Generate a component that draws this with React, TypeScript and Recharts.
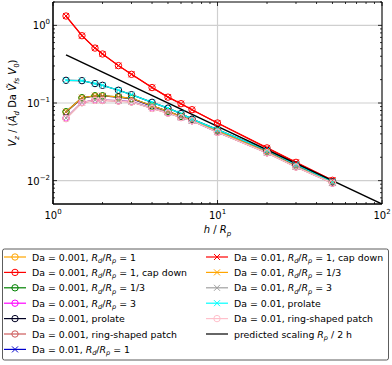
import React from "react";
import {
  LineChart,
  Line,
  XAxis,
  YAxis,
  CartesianGrid,
  ReferenceArea,
} from "recharts";

// h / R_p sampled in every run
const hOverRp = [1.2, 1.5, 1.8, 2, 2.5, 3, 4, 5, 6, 7, 10, 20, 30, 50];

// V_z values
const vRd1 = [0.0766, 0.116, 0.123, 0.123, 0.119, 0.114, 0.091, 0.078, 0.067, 0.06, 0.0435, 0.0233, 0.0153, 0.0095];
const vRd1CapDown = [1.32, 0.736, 0.51, 0.428, 0.303, 0.234, 0.158, 0.119, 0.098, 0.082, 0.0553, 0.0264, 0.0172, 0.0101];
const vRd13 = [0.0772, 0.117, 0.124, 0.124, 0.12, 0.115, 0.092, 0.078, 0.067, 0.06, 0.0437, 0.0234, 0.0153, 0.0095];
const vRd3 = [0.064, 0.102, 0.109, 0.109, 0.107, 0.104, 0.086, 0.075, 0.065, 0.059, 0.0422, 0.0229, 0.0151, 0.0093];
const vProlate = [0.196, 0.194, 0.178, 0.169, 0.146, 0.128, 0.102, 0.086, 0.073, 0.062, 0.0454, 0.0246, 0.0161, 0.0097];
const vRing = [0.063, 0.101, 0.108, 0.108, 0.106, 0.103, 0.085, 0.074, 0.065, 0.059, 0.042, 0.0228, 0.015, 0.0093];

// predicted scaling R_p / 2h, end points
const predictedH = [1.2, 100];
const predictedV = [0.417, 0.005];

const xMajor = [1, 10, 100];
const xMinor = [2, 3, 4, 5, 6, 7, 8, 9, 20, 30, 40, 50, 60, 70, 80, 90];
const yMajor = [0.01, 0.1, 1];
const yMinor = [0.006, 0.007, 0.008, 0.009, 0.02, 0.03, 0.04, 0.05, 0.06, 0.07, 0.08, 0.09, 0.2, 0.3, 0.4, 0.5, 0.6, 0.7, 0.8, 0.9, 2];

type Seg = [string, string?];
const rdrp = (v: string): Seg[] => [["R", "i"], ["d", "is"], ["/"], ["R", "i"], ["p", "is"], [" = " + v]];

const series = [
  { key: "s0", values: vRd1, color: "#ffa500", marker: "o", label: [["Da = 0.001, "], ...rdrp("1")] as Seg[] },
  { key: "s1", values: vRd1CapDown, color: "#ff0000", marker: "o", label: [["Da = 0.001, "], ...rdrp("1"), [", cap down"]] as Seg[] },
  { key: "s2", values: vRd13, color: "#008000", marker: "o", label: [["Da = 0.001, "], ...rdrp("1/3")] as Seg[] },
  { key: "s3", values: vRd3, color: "#ff00ff", marker: "o", label: [["Da = 0.001, "], ...rdrp("3")] as Seg[] },
  { key: "s4", values: vProlate, color: "#000022", marker: "o", label: [["Da = 0.001, prolate"]] as Seg[] },
  { key: "s5", values: vRing, color: "#cd5c5c", marker: "o", label: [["Da = 0.001, ring-shaped patch"]] as Seg[] },
  { key: "s6", values: vRd1, color: "#0000cd", marker: "x", label: [["Da = 0.01, "], ...rdrp("1")] as Seg[] },
  { key: "s7", values: vRd1CapDown, color: "#ff0000", marker: "x", label: [["Da = 0.01, "], ...rdrp("1"), [", cap down"]] as Seg[] },
  { key: "s8", values: vRd13, color: "#ffa500", marker: "x", label: [["Da = 0.01, "], ...rdrp("1/3")] as Seg[] },
  { key: "s9", values: vRd3, color: "#a0a0a0", marker: "x", label: [["Da = 0.01, "], ...rdrp("3")] as Seg[] },
  { key: "s10", values: vProlate, color: "#00ffff", marker: "x", label: [["Da = 0.01, prolate"]] as Seg[] },
  { key: "s11", values: vRing, color: "#ffc0cb", marker: "o", label: [["Da = 0.01, ring-shaped patch"]] as Seg[] },
];

const predictedLabel: Seg[] = [["predicted scaling "], ["R", "i"], ["p", "is"], [" / 2 h"]];

// one row per h; the predicted line only has values at its two end points
const allH = Array.from(new Set([...hOverRp, ...predictedH])).sort((a, b) => a - b);
const table = allH.map((h) => {
  const row: Record<string, number | null> = { h };
  const i = hOverRp.indexOf(h);
  series.forEach((s) => (row[s.key] = i >= 0 ? s.values[i] : null));
  const j = predictedH.indexOf(h);
  row.pred = j >= 0 ? predictedV[j] : null;
  return row;
});

const FONT = "DejaVu Sans, sans-serif";
const PLOT_W = 329;
const PLOT_H = 202;

// renders segments with italic / subscript parts as tspans
const rich = (segs: Seg[], size: number) => {
  let shifted = false;
  return segs.map(([t, f], i) => {
    const sub = !!f && f.includes("s");
    const italic = !!f && f.includes("i");
    let dy = 0;
    if (sub && !shifted) dy = size * 0.25;
    if (!sub && shifted) dy = -size * 0.25;
    shifted = sub;
    return (
      <tspan key={i} dy={dy} fontSize={sub ? size * 0.7 : size} fontStyle={italic ? "italic" : "normal"}>
        {t}
      </tspan>
    );
  });
};

const sup = (v: number) => {
  const e = Math.round(Math.log10(v));
  return e < 0 ? "\u2212" + Math.abs(e) : String(e);
};

const XTick = (props: any) => {
  const { x, y, payload } = props;
  const major = xMajor.includes(payload.value);
  const len = major ? 4 : 2;
  return (
    <g>
      <line x1={x} y1={y} x2={x} y2={y - len} stroke="#000" strokeWidth={0.8} />
      <line x1={x} y1={y - PLOT_H} x2={x} y2={y - PLOT_H + len} stroke="#000" strokeWidth={0.8} />
      {major && (
        <text x={x} y={y + 15} textAnchor="middle" fontSize={10} fontFamily={FONT} fill="#000">
          10<tspan dy={-5} fontSize={7}>{sup(payload.value)}</tspan>
        </text>
      )}
    </g>
  );
};

const YTick = (props: any) => {
  const { x, y, payload } = props;
  const major = yMajor.includes(payload.value);
  const len = major ? 4 : 2;
  return (
    <g>
      <line x1={x} y1={y} x2={x + len} y2={y} stroke="#000" strokeWidth={0.8} />
      <line x1={x + PLOT_W} y1={y} x2={x + PLOT_W - len} y2={y} stroke="#000" strokeWidth={0.8} />
      {major && (
        <text x={x - 3} y={y + 4} textAnchor="end" fontSize={10} fontFamily={FONT} fill="#000">
          10<tspan dy={-5} fontSize={7}>{sup(payload.value)}</tspan>
        </text>
      )}
    </g>
  );
};

const XLabel = (props: any) => {
  const { viewBox } = props;
  return (
    <text x={viewBox.x + viewBox.width / 2} y={viewBox.y + 29} textAnchor="middle" fontFamily={FONT} fill="#000">
      {rich([["h", "i"], [" / "], ["R", "i"], ["p", "is"]], 10)}
    </text>
  );
};

const YLabel = (props: any) => {
  const { viewBox } = props;
  const cx = viewBox.x + 16;
  const cy = viewBox.y + viewBox.height / 2;
  return (
    <text x={cx} y={cy} textAnchor="middle" fontFamily={FONT} fill="#000" transform={`rotate(-90 ${cx} ${cy})`}>
      {rich(
        [["V", "i"], ["z", "is"], [" / ("], ["\u00c3", "i"], ["d", "is"], [" Da "], ["V\u0303", "i"], ["fs", "is"], [" "], ["V", "i"], ["0", "s"], [")"]],
        10
      )}
    </text>
  );
};

const Marker = ({ cx, cy, color, marker }: any) =>
  marker === "o" ? (
    <circle cx={cx} cy={cy} r={3.2} fill="none" stroke={color} strokeWidth={1} />
  ) : (
    <g stroke={color} strokeWidth={1}>
      <line x1={cx - 3} y1={cy - 3} x2={cx + 3} y2={cy + 3} />
      <line x1={cx - 3} y1={cy + 3} x2={cx + 3} y2={cy - 3} />
    </g>
  );

const Legend = () => {
  const rows = 7;
  const items = [
    ...series.map((s) => ({ color: s.color, marker: s.marker, label: s.label })),
    { color: "#000", marker: "", label: predictedLabel },
  ];
  return (
    <svg width={392} height={120} style={{ position: "absolute", left: 0, top: 245 }}>
      <rect x={2.5} y={4} width={386} height={111} rx={2} fill="#fff" stroke="#333" strokeWidth={0.8} />
      {items.map((it, i) => {
        const col = Math.floor(i / rows);
        const y = 12 + (i % rows) * 15.4;
        const lx = col === 0 ? 4 : 206;
        return (
          <g key={i}>
            <line x1={lx} y1={y} x2={lx + 22} y2={y} stroke={it.color} strokeWidth={1.2} />
            {it.marker && <Marker cx={lx + 11} cy={y} color={it.color} marker={it.marker} />}
            <text x={lx + 28} y={y + 3.5} fontFamily={FONT} fill="#000">
              {rich(it.label, 9.4)}
            </text>
          </g>
        );
      })}
    </svg>
  );
};

export default function App() {
  return (
    <div style={{ position: "absolute", left: 0, top: 0, width: 392, height: 365, background: "#fff" }}>
      <LineChart width={392} height={365} data={table} margin={{ top: 2, right: 10, left: 0, bottom: 121 }}>
        <CartesianGrid horizontalValues={yMajor} verticalValues={xMajor} stroke="#cfcfcf" strokeWidth={1.2} />
        <XAxis
          dataKey="h"
          type="number"
          scale="log"
          domain={[1, 100]}
          allowDataOverflow
          ticks={[...xMajor, ...xMinor]}
          interval={0}
          tickSize={0}
          tickMargin={0}
          tick={<XTick />}
          axisLine={{ stroke: "#000" }}
          height={40}
          label={<XLabel />}
        />
        <YAxis
          type="number"
          scale="log"
          domain={[0.005, 2]}
          allowDataOverflow
          ticks={[...yMajor, ...yMinor]}
          interval={0}
          tickSize={0}
          tickMargin={0}
          tick={<YTick />}
          axisLine={{ stroke: "#000" }}
          width={53}
          label={<YLabel />}
        />
        {series.map((s) => (
          <Line
            key={s.key}
            dataKey={s.key}
            stroke={s.color}
            strokeWidth={1.2}
            isAnimationActive={false}
            dot={(p: any) =>
              p.value == null ? <g key={p.index} /> : <Marker key={p.index} cx={p.cx} cy={p.cy} color={s.color} marker={s.marker} />
            }
            activeDot={false}
          />
        ))}
        <Line
          dataKey="pred"
          stroke="#000"
          strokeWidth={1.5}
          dot={false}
          activeDot={false}
          connectNulls
          isAnimationActive={false}
        />
        <ReferenceArea x1={1} x2={100} y1={0.005} y2={2} fill="none" stroke="#000" strokeWidth={1} ifOverflow="visible" />
      </LineChart>
      <Legend />
    </div>
  );
}
